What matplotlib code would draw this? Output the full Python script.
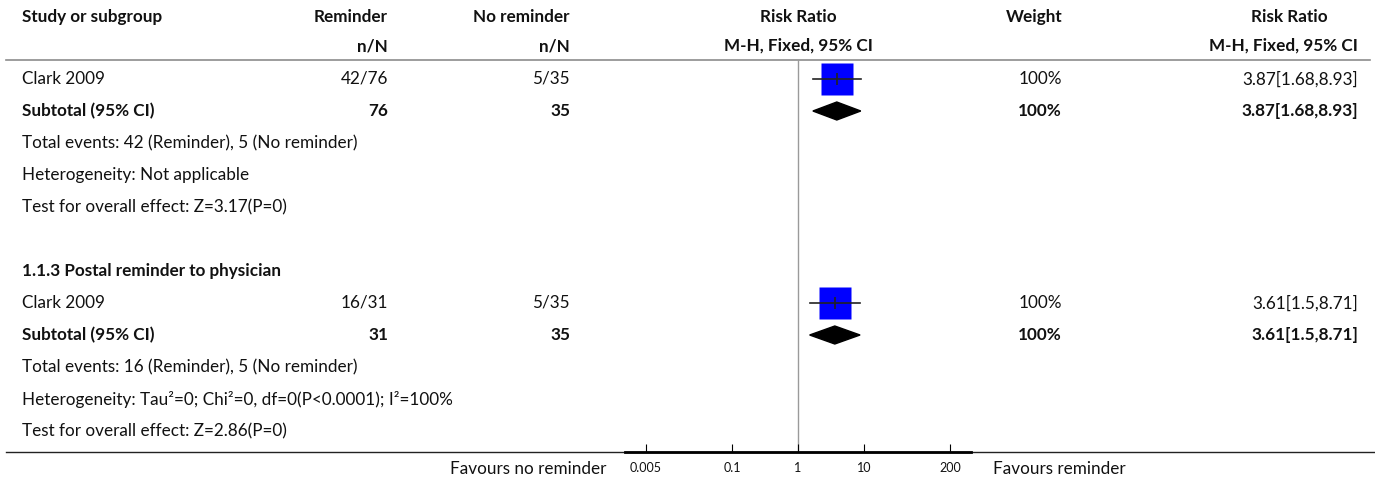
import numpy as np
import matplotlib.pyplot as plt
from matplotlib.patches import Polygon

plt.rcParams['font.family'] = ['Lato', 'DejaVu Sans']

# ---- data ----
group_titles = ['', '1.1.3 Postal reminder to physician']
studies = ['Clark 2009', 'Clark 2009']
rem_events = [42, 16]
rem_total = [76, 31]
ctl_events = [5, 5]
ctl_total = [35, 35]
rr = [3.87, 3.61]
rr_lo = [1.68, 1.5]
rr_hi = [8.93, 8.71]
weight = [100, 100]
heterogeneity = ['Not applicable', 'Tau\u00b2=0; Chi\u00b2=0, df=0(P<0.0001); I\u00b2=100%']
z_val = [3.17, 2.86]
p_val = ['0', '0']
xticks = [0.005, 0.1, 1, 10, 200]

W, H = 1375, 482
fig = plt.figure(figsize=(W / 100, H / 100), dpi=100)

# text layer in pixel units
ax = fig.add_axes([0, 0, 1, 1])
ax.set_xlim(0, W)
ax.set_ylim(H, 0)
ax.axis('off')

fs = 12.3
col_study = 22
col_rem = 388
col_ctl = 570
col_rr = 798
col_w = 1062
col_rr2 = 1289
col_rr2_r = 1358

def txt(x, y, s, ha='left', bold=False, size=fs):
    ax.text(x, y, s, ha=ha, va='center', fontsize=size,
            fontweight='bold' if bold else 'normal', color='#111111')

# header
txt(col_study, 17, 'Study or subgroup', bold=True)
txt(col_rem, 17, 'Reminder', ha='right', bold=True)
txt(col_ctl, 17, 'No reminder', ha='right', bold=True)
txt(col_rr, 17, 'Risk Ratio', ha='center', bold=True)
txt(col_w, 17, 'Weight', ha='right', bold=True)
txt(col_rr2, 17, 'Risk Ratio', ha='center', bold=True)
txt(col_rem, 46, 'n/N', ha='right', bold=True)
txt(col_ctl, 46, 'n/N', ha='right', bold=True)
txt(col_rr, 46, 'M-H, Fixed, 95% CI', ha='center', bold=True)
txt(col_rr2_r, 46, 'M-H, Fixed, 95% CI', ha='right', bold=True)
ax.plot([6, 1370], [60, 60], color='#8c8c8c', lw=1.2)

row0, step = 79, 32

def ypx(r):
    return row0 + step * r

# forest panel
left, right = 625, 971
top, bottom = 60, 452
fx = fig.add_axes([left / W, (H - bottom) / H, (right - left) / W, (bottom - top) / H])
fx.set_xscale('log')
span = 2.62
fx.set_xlim(10 ** -span, 10 ** span)
fx.set_ylim((bottom - row0) / step, (top - row0) / step)
fx.patch.set_visible(False)
for s in ['top', 'left', 'right']:
    fx.spines[s].set_visible(False)
fx.spines['bottom'].set_linewidth(2)
fx.set_yticks([])
fx.set_xticks(xticks)
fx.set_xticklabels([('%g' % t) for t in xticks])
fx.minorticks_off()
fx.tick_params(axis='x', direction='in', length=6, width=0.8, labelsize=9, pad=7,
               labelcolor='#111111')
fx.axvline(1, color='#9a9a9a', lw=1.0, zorder=0)

rows = [(0, 1), (7, 8)]  # (study row, subtotal row) per group
for g, (rs, rt) in enumerate(rows):
    if group_titles[g]:
        txt(col_study, ypx(rs - 1), group_titles[g], bold=True)
    txt(col_study, ypx(rs), studies[g])
    txt(col_rem, ypx(rs), '%d/%d' % (rem_events[g], rem_total[g]), ha='right')
    txt(col_ctl, ypx(rs), '%d/%d' % (ctl_events[g], ctl_total[g]), ha='right')
    txt(col_w, ypx(rs), '%d%%' % weight[g], ha='right')
    txt(col_rr2_r, ypx(rs), '%g[%g,%g]' % (rr[g], rr_lo[g], rr_hi[g]), ha='right')

    # study box + CI
    fx.plot([rr_lo[g], rr_hi[g]], [rs, rs], color='#222222', lw=1.2, zorder=3)
    fx.plot([rr[g]], [rs], marker='s', ms=22.5, color='#0000ff', mec='none', zorder=2)
    fx.plot([rr[g]], [rs], marker='|', ms=8, mew=1.2, color='#222222', zorder=4)

    # subtotal row
    txt(col_study, ypx(rt), 'Subtotal (95% CI)', bold=True)
    txt(col_rem, ypx(rt), str(rem_total[g]), ha='right', bold=True)
    txt(col_ctl, ypx(rt), str(ctl_total[g]), ha='right', bold=True)
    txt(col_w, ypx(rt), '%d%%' % weight[g], ha='right', bold=True)
    txt(col_rr2_r, ypx(rt), '%g[%g,%g]' % (rr[g], rr_lo[g], rr_hi[g]), ha='right', bold=True)
    h = 9 / step
    fx.add_patch(Polygon([(rr_lo[g], rt), (rr[g], rt - h), (rr_hi[g], rt), (rr[g], rt + h)],
                         closed=True, color='black', zorder=3))

    txt(col_study, ypx(rt + 1), 'Total events: %d (Reminder), %d (No reminder)'
        % (rem_events[g], ctl_events[g]))
    txt(col_study, ypx(rt + 2), 'Heterogeneity: ' + heterogeneity[g])
    txt(col_study, ypx(rt + 3), 'Test for overall effect: Z=%g(P=%s)' % (z_val[g], p_val[g]))

# bottom rule and favours labels
ax.plot([6, 1375], [452, 452], color='#222222', lw=1.0, zorder=1)
txt(606, 469, 'Favours no reminder', ha='right')
txt(993, 469, 'Favours reminder')

plt.savefig('out.png', dpi=100)
